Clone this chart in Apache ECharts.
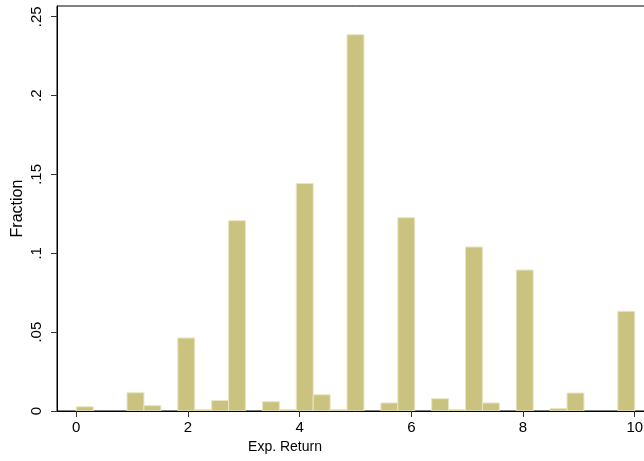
<!DOCTYPE html>
<html>
<head>
<meta charset="utf-8">
<script src="https://cdn.jsdelivr.net/npm/echarts@6/dist/echarts.min.js"></script>
<style>
  html, body { margin: 0; padding: 0; background: #fff; overflow: hidden; width: 644px; height: 461px; }
  #chart { width: 660px; height: 461px; }
</style>
</head>
<body>
<div id="chart"></div>
<script>
// Histogram of expected return: 33 equal bins spanning 0..10
const binLow = 0;
const binHigh = 10;
const fraction = [
  0.0027, 0, 0, 0.0116, 0.0034, 0, 0.0463, 0.0010, 0.0067, 0.1207, 0,
  0.0059, 0.0010, 0.1443, 0.0103, 0.0010, 0.2386, 0, 0.0051, 0.1226, 0,
  0.0078, 0.0010, 0.1040, 0.0051, 0, 0.0894, 0, 0.0016, 0.0114, 0, 0, 0.0632
];
const xTicks = [0, 2, 4, 6, 8, 10];
const yTicks = [0, 0.05, 0.1, 0.15, 0.2, 0.25];
const yTickLabels = ['0', '.05', '.1', '.15', '.2', '.25'];
const xTitle = 'Exp. Return';
const yTitle = 'Fraction';

const binWidth = (binHigh - binLow) / fraction.length;
const histData = fraction.map((v, i) => [binLow + i * binWidth, binLow + (i + 1) * binWidth, v]);

const FONT = "'Liberation Sans', Arial, Helvetica, sans-serif";
const chart = echarts.init(document.getElementById('chart'), null, { renderer: 'canvas' });

chart.setOption({
  animation: false,
  backgroundColor: '#ffffff',
  grid: {
    left: 57, top: 6, width: 597, height: 405,
    show: true, borderColor: '#000', borderWidth: 1, backgroundColor: 'transparent'
  },
  xAxis: {
    type: 'value', min: -0.345, max: 10.345,
    splitLine: { show: false },
    axisLine: { show: true, onZero: false, lineStyle: { color: '#000', width: 1 } },
    axisTick: { show: true, length: 6, customValues: xTicks, lineStyle: { color: '#333' } },
    axisLabel: {
      customValues: xTicks, margin: 9, color: '#000', fontSize: 15, fontFamily: FONT,
      formatter: v => String(v)
    }
  },
  yAxis: {
    type: 'value', min: 0, max: 0.2568,
    splitLine: { show: false },
    axisLine: { show: true, onZero: false, lineStyle: { color: '#000', width: 1 } },
    axisTick: { show: true, length: 6, customValues: yTicks, lineStyle: { color: '#333' } },
    axisLabel: {
      customValues: yTicks, rotate: 90, margin: 13, color: '#000', fontSize: 15, fontFamily: FONT,
      formatter: v => {
        const idx = yTicks.findIndex(t => Math.abs(t - v) < 1e-9);
        return idx >= 0 ? yTickLabels[idx] : '';
      }
    }
  },
  graphic: [
    { type: 'text', style: { text: xTitle, x: 285, y: 447, textAlign: 'center', textVerticalAlign: 'middle', font: '14px ' + FONT, fill: '#000' } },
    { type: 'text', x: 18, y: 208.5, rotation: Math.PI / 2, style: { text: yTitle, x: 0, y: 0, textAlign: 'center', textVerticalAlign: 'middle', font: '16px ' + FONT, fill: '#000' } }
  ],
  series: [{
    type: 'custom',
    data: histData,
    clip: true,
    renderItem: function (params, api) {
      const p0 = api.coord([api.value(0), api.value(2)]);
      const p1 = api.coord([api.value(1), 0]);
      if (api.value(2) <= 0) return null;
      return {
        type: 'rect',
        shape: { x: p0[0], y: p0[1], width: p1[0] - p0[0], height: p1[1] - p0[1] },
        style: { fill: '#cac37f', stroke: '#e9e5c2', lineWidth: 1 }
      };
    }
  }]
});
</script>
</body>
</html>
